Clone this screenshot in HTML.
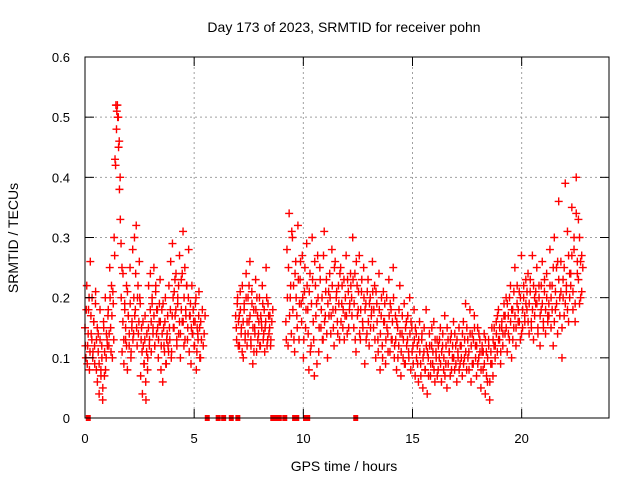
<!DOCTYPE html>
<html><head><meta charset="utf-8"><style>
body{margin:0;background:#fff}
svg{display:block;font-family:"Liberation Sans",sans-serif}
</style></head><body>
<svg id="chart" width="640" height="480" viewBox="0 0 640 480">
<rect width="640" height="480" fill="#fff"/>
<g id="grid"></g>
<g id="marks"></g>
<rect x="85" y="57" width="524" height="361" fill="none" stroke="#000" stroke-width="1"/>
<g id="ticks"></g>
<text x="344" y="32" text-anchor="middle" font-size="14">Day 173 of 2023, SRMTID for receiver pohn</text>
<text x="344" y="471" text-anchor="middle" font-size="14">GPS time / hours</text>
<text transform="translate(18,238) rotate(-90)" text-anchor="middle" font-size="14">SRMTID / TECUs</text>
</svg>
<script>
const xTicks=[0,5,10,15,20];
const yTicks=[0,0.1,0.2,0.3,0.4,0.5,0.6];
const yTickLabels=["0","0.1","0.2","0.3","0.4","0.5","0.6"];
const segStarts=[0,6.9,9.2,0.02,6.93,9.22];
const segEnds=[5.3,8.6,22.8,5.5,8.5,22.75];
const segA=[15,10,22,12,18,8,26,14,20,11,16,9,21,13,6,14,4,18,8,12,3,16,7,20,10,13,17,12,25,15,22,10,19,30,43,52,51,50,45,38,33,20,11,24,9,18,13,22,8,17,12,25,10,15,28,14,30,18,32,12,22,16,20,7,15,4,12,9,17,3,14,10,22,13,24,11,19,15,25,12,21,14,18,10,16,23,8,18,6,15,11,20,9,14,12,22,13,26,11,29,15,21,17,24,12,20,14,27,10,23,16,31,12,25,18,22,13,20,11,17,9,22,14,16,12,19,8,15,13,21,10,16];
const segB=[17,13,20,16,12,18,15,22,10,19,14,24,12,20,16,26,13,21,9,18,15,23,11,17,14,20,12,16,22,13,18,15,25,12,19,14,17,13,16,18];
const segC=[16,28,12,34,20,14,30,22,11,26,17,32,13,23,19,27,10,21,15,29,
18,8,24,12,30,16,7,22,19,27,11,25,15,20,13,31,17,23,10,21,
24,14,28,18,12,26,20,16,22,13,25,19,15,23,17,27,14,21,18,24,
20,30,15,24,11,22,18,27,13,21,16,25,9,19,14,23,12,20,17,26,
15,22,10,19,13,24,8,17,12,21,16,9,20,14,23,11,18,13,25,10,
17,8,15,12,22,7,14,10,19,9,16,13,11,20,8,15,12,18,7,14,
12,6,16,9,13,5,11,8,18,4,10,14,7,12,9,16,6,11,13,8,
10,15,6,12,8,17,9,5,13,11,7,14,10,16,8,12,6,11,15,9,
12,7,16,10,19,8,13,11,18,6,14,9,17,12,7,15,10,13,5,11,
8,14,4,11,6,13,3,9,15,7,12,10,16,11,18,13,9,15,12,17,
14,20,11,17,13,22,10,18,15,25,12,19,16,21,13,27,15,20,17,23,
18,24,14,21,16,27,13,20,19,25,15,22,12,18,26,16,21,14,24,17,
19,28,15,22,12,30,18,25,14,36,20,26,10,23,17,39,21,31,16,24,
22,35,18,28,16,40,24,33,19,26,21,25];
const segA2=[12,18,9,14,20,11,17,13,10,16,12,19,8,15,11,9,13,7,10,5,15,11,8,14,12,18,14,20,11,17,21,13,27,42,48,52,50,46,40,29,25,16,13,19,15,12,21,17,14,19,11,16,13,20,17,24,15,20,14,26,19,13,11,16,9,13,6,11,8,15,12,18,16,20,14,17,12,22,18,15,13,19,16,12,14,19,12,16,9,13,17,11,15,18,10,17,20,15,23,18,13,19,22,16,14,18,24,16,20,13,17,22,15,28,17,19,15,14,18,12,16,20,11,14,17,15,10,13,18,12,14,17];
const segB2=[15,19,12,17,21,14,11,16,18,13,20,16,14,22,17,12,19,15,11,14,18,20,13,16,12,17,15,19,14,11,16,20,13,17,15,12];
const segC2=[13,20,25,17,22,31,18,13,24,20,15,23,19,26,16,20,13,25,18,22,
14,21,11,19,23,13,26,17,9,20,15,23,18,13,27,16,21,14,19,17,
20,17,22,15,25,18,21,14,19,24,16,22,18,13,20,17,23,15,19,22,
17,23,19,13,26,17,21,14,18,23,15,20,18,13,21,16,19,15,18,21,
18,13,21,16,11,18,14,20,10,16,19,13,15,11,17,19,13,16,20,12,
13,16,10,18,14,11,17,13,9,15,12,17,10,14,16,11,9,13,15,10,
9,13,11,7,14,10,15,8,12,11,7,12,9,15,11,8,13,10,7,12,
13,9,11,14,10,7,12,15,9,11,13,8,12,10,14,9,13,10,8,12,
10,14,9,13,11,15,10,8,14,12,9,13,15,10,12,9,14,11,8,12,
11,9,13,7,10,12,6,11,9,13,15,12,14,17,13,15,11,16,14,19,
17,15,19,14,20,16,18,13,21,17,15,22,18,16,20,14,18,22,16,19,
21,16,19,23,15,18,22,17,21,19,14,20,17,22,19,15,23,18,20,16,
17,22,20,18,25,16,21,19,26,23,17,21,15,20,25,19,22,18,27,20,
24,27,21,30,19,34,26,23,30,20,27];
const zeroTimes=[0.15,5.6,6.1,6.35,6.7,7.0,8.6,8.75,8.9,9.15,9.6,9.7,10.1,10.2,12.4];
const NS="http://www.w3.org/2000/svg";
const X=t=>85+t*(524/24);
const Y=v=>418-v*(361/0.6);
function mk(tag,attrs,parent){const e=document.createElementNS(NS,tag);for(const k in attrs)e.setAttribute(k,attrs[k]);parent.appendChild(e);return e;}
const grid=document.getElementById('grid'),ticks=document.getElementById('ticks'),marks=document.getElementById('marks');
xTicks.forEach(t=>{
 if(t>0){const g=mk('line',{x1:X(t),x2:X(t),y1:57,y2:418,stroke:'#a0a0a0','stroke-dasharray':'2,3'},grid);
 
 }
 mk('line',{x1:X(t),x2:X(t),y1:418,y2:409,stroke:'#000'},ticks);
 mk('line',{x1:X(t),x2:X(t),y1:57,y2:66,stroke:'#000'},ticks);
 const l=mk('text',{x:X(t),y:443,'text-anchor':'middle','font-size':13},ticks);l.textContent=t;
 
 
});
yTicks.forEach((v,i)=>{
 if(v>0&&v<0.6){const g=mk('line',{x1:85,x2:609,y1:Y(v),y2:Y(v),stroke:'#a0a0a0','stroke-dasharray':'2,3'},grid);
 
 }
 mk('line',{x1:85,x2:94,y1:Y(v),y2:Y(v),stroke:'#000'},ticks);
 mk('line',{x1:609,x2:600,y1:Y(v),y2:Y(v),stroke:'#000'},ticks);
 const l=mk('text',{x:70,y:Y(v)+5,'text-anchor':'end','font-size':13},ticks);l.textContent=yTickLabels[i];
 
 
});
function plus(t,v){
 const p=mk('path',{d:`M${X(t)-4},${Y(v)}h8M${X(t)},${Y(v)-4}v8`,stroke:'#ff0000','stroke-width':1.4,fill:'none'},marks);
 
 
}
[segA,segB,segC,segA2,segB2,segC2].forEach((seg,si)=>{
 const n=seg.length;
 seg.forEach((v,i)=>plus(segStarts[si]+(segEnds[si]-segStarts[si])*i/(n-1),v/100));
});
zeroTimes.forEach(t=>{
 const r=mk('rect',{x:X(t)-2.5,y:415,width:5,height:6,fill:'#ff0000'},marks);
 
 
});
</script>
</body></html>
